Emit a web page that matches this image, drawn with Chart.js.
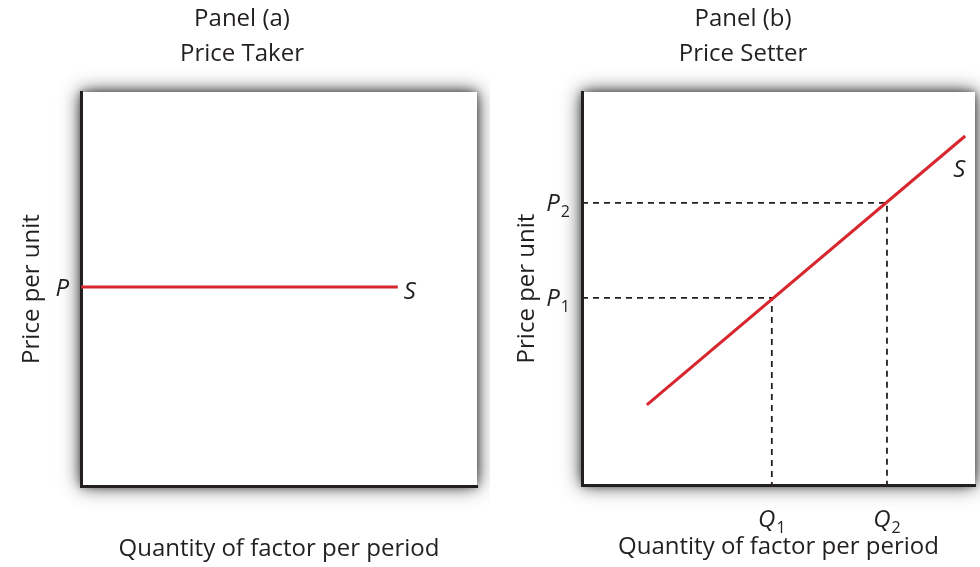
<!DOCTYPE html>
<html><head><meta charset="utf-8">
<script src="https://cdn.jsdelivr.net/npm/chart.js@4.4.1/dist/chart.umd.min.js"></script>
<style>
html,body{margin:0;padding:0;background:#fff;width:980px;height:567px;overflow:hidden}
canvas{position:absolute;top:0}
#ca{left:0}
#cb{left:490px}
</style></head><body>
<canvas id="ca" width="490" height="567"></canvas>
<canvas id="cb" width="490" height="567"></canvas>
<script>
// ---- data ----
const titleA = ['Panel (a)', 'Price Taker'];
const titleB = ['Panel (b)', 'Price Setter'];
const yAxisTitle = 'Price per unit';
const xAxisTitle = 'Quantity of factor per period';
// Panel (a): horizontal supply at market price P
const supplyAx = [0, 8];
const supplyAy = [5.05, 5.05];
const priceA = [5.05];
const priceLabelsA = [['P', '']];
// Panel (b): upward-sloping supply
const supplyBx = [1.65, 9.75];
const supplyBy = [2.04, 8.88];
const quantityB = [4.83, 7.76];
const priceB = [4.76, 7.18];
const priceLabelsB = [['P', '1'], ['P', '2']];
const quantityLabelsB = [['Q', '1'], ['Q', '2']];
const curveLabel = 'S';

// ---- styles ----
const INK = '#231f20';
const RED = '#d7262e';
const FONT = '"Open Sans", sans-serif';

const pts = (xs, ys) => xs.map((x, i) => ({ x, y: ys[i] }));

const panelPlugin = {
  id: 'econLabels',
  beforeDraw(chart) {
    const a = chart.chartArea, ctx = chart.ctx;
    ctx.save();
    ctx.shadowColor = 'rgba(0,0,0,0.85)';
    ctx.shadowBlur = 18;
    ctx.fillStyle = '#fff';
    ctx.fillRect(a.left, a.top, a.right - a.left, a.bottom - a.top);
    ctx.shadowColor = 'rgba(0,0,0,0.4)';
    ctx.shadowBlur = 8;
    ctx.fillRect(a.left, a.top, a.right - a.left, a.bottom - a.top);
    ctx.restore();
  },
  afterDraw(chart, args, o) {
    const ctx = chart.ctx, xs = chart.scales.x, ys = chart.scales.y;
    const a = chart.chartArea;
    const baseFont = 'italic 24px ' + FONT, subFont = '16px ' + FONT;
    ctx.save();
    ctx.fillStyle = INK;
    ctx.textBaseline = 'alphabetic';
    const drawLbl = (lbl, x, y, align) => {
      ctx.font = baseFont; const w1 = ctx.measureText(lbl[0]).width;
      ctx.font = subFont; const w2 = lbl[1] ? ctx.measureText(lbl[1]).width + 1 : 0;
      const tw = w1 + w2;
      let x0 = align === 'right' ? x - tw : (align === 'center' ? x - tw / 2 : x);
      ctx.textAlign = 'left';
      ctx.font = baseFont; ctx.fillText(lbl[0], x0, y);
      if (lbl[1]) { ctx.font = subFont; ctx.fillText(lbl[1], x0 + w1 + 1, y + 6); }
    };
    (o.yVals || []).forEach((v, i) => drawLbl(o.yLabels[i], a.left - 12, ys.getPixelForValue(v) + 8.5, 'right'));
    (o.xVals || []).forEach((v, i) => drawLbl(o.xLabels[i], xs.getPixelForValue(v), a.bottom + 42, 'center'));
    const ds = chart.data.datasets[0].data, last = ds[ds.length - 1];
    ctx.font = baseFont; ctx.textAlign = 'center'; ctx.textBaseline = 'middle';
    ctx.fillText(o.curveText, xs.getPixelForValue(last.x) + o.sdx, ys.getPixelForValue(last.y) + o.sdy);
    ctx.restore();
  }
};

function makeChart(id, o) {
  return new Chart(document.getElementById(id), {
    type: 'scatter',
    data: { datasets: o.datasets },
    options: {
      responsive: false, animation: false,
      layout: { padding: { left: o.padL, right: o.padR, top: 0, bottom: 0 } },
      plugins: {
        legend: { display: false }, tooltip: { enabled: false },
        title: { display: true, text: o.title, color: INK,
          font: { family: FONT, size: 24, weight: 'normal', lineHeight: 35 / 24 },
          padding: { top: 2, bottom: 20 } },
        econLabels: o.labels
      },
      scales: {
        x: { type: 'linear', min: 0, max: 10,
          grid: { display: false }, ticks: { display: false },
          border: { display: true, color: INK, width: 3 },
          title: { display: true, text: xAxisTitle, color: INK,
            font: { family: FONT, size: 24, weight: 'normal' }, padding: { top: 0, bottom: o.xTitlePad } },
          afterFit: s => { s.height = o.xH; } },
        y: { type: 'linear', min: 0, max: 10,
          grid: { display: false }, ticks: { display: false },
          border: { display: true, color: INK, width: 3 },
          title: { display: true, text: yAxisTitle, color: INK,
            font: { family: FONT, size: 24, weight: 'normal' }, padding: { top: o.yTitlePad, bottom: 0 } },
          afterFit: s => { s.width = o.yW; } }
      }
    },
    plugins: [panelPlugin]
  });
}

const redLine = data => ({ data, showLine: true, borderColor: RED, borderWidth: 3, pointRadius: 0, fill: false });
const dashLine = data => ({ data, showLine: true, borderColor: INK, borderWidth: 1.8, borderDash: [6, 5], pointRadius: 0, fill: false });

makeChart('ca', {
  title: titleA, padL: 7, padR: 13, yW: 74, xH: 81, xTitlePad: 3.6, yTitlePad: 10.6,
  datasets: [redLine(pts(supplyAx, supplyAy))],
  labels: { yVals: priceA, yLabels: priceLabelsA, curveText: curveLabel, sdx: 12, sdy: 5 }
});

makeChart('cb', {
  title: titleB, padL: 21, padR: 5, yW: 71, xH: 82, xTitlePad: 5.6, yTitlePad: 1.6,
  datasets: [
    redLine(pts(supplyBx, supplyBy)),
    ...quantityB.map((q, i) => dashLine([{ x: 0, y: priceB[i] }, { x: q, y: priceB[i] }, { x: q, y: 0 }]))
  ],
  labels: { yVals: priceB, yLabels: priceLabelsB, xVals: quantityB, xLabels: quantityLabelsB,
    curveText: curveLabel, sdx: -6, sdy: 34 }
});
</script>
</body></html>
